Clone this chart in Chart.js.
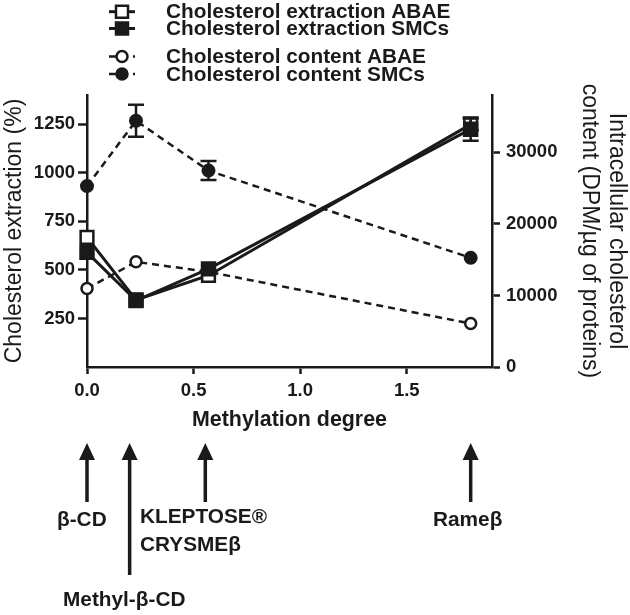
<!DOCTYPE html>
<html>
<head>
<meta charset="utf-8">
<script src="https://cdn.jsdelivr.net/npm/chart.js@4"></script>
<style>
  html, body { margin: 0; padding: 0; background: #fff; }
  #wrap { width: 630px; height: 615px; position: relative; }
</style>
</head>
<body>
<div id="wrap"><canvas id="chart" width="630" height="615"></canvas></div>
<script>
// methylation degree of each cyclodextrin
const methylation = [0, 0.23, 0.57, 1.8];

// cholesterol extraction (%), left axis
const extractionABAE = [667, 345, 471, 1249];
const extractionSMCs = [590, 342, 505, 1224];
const extractionABAEErr = [0, 0, 0, 30];
const extractionSMCsErr = [0, 0, 0, 60];

// intracellular cholesterol content (DPM/µg of proteins), right axis
const contentABAE = [10960, 14690, 13290, 6070];
const contentSMCs = [25270, 34400, 27440, 15250];
const contentABAEErr = [0, 0, 0, 0];
const contentSMCsErr = [0, 2250, 1330, 0];

const leftTicks = [250, 500, 750, 1000, 1250];
const rightTicks = [0, 10000, 20000, 30000];
const xTicks = [0, 0.5, 1.0, 1.5];

// cyclodextrins pointed at under the x axis
const cdNames = [['β-CD'], ['Methyl-β-CD'], ['KLEPTOSE®', 'CRYSMEβ'], ['Rameβ']];
const cdDegree = [0, 0.2, 0.555, 1.8];

const INK = '#1a1a1a';
const FONT = "'Liberation Sans', Arial, sans-serif";

const pts = (ys) => methylation.map((x, i) => ({ x, y: ys[i] }));

const datasets = [
  { label: 'Cholesterol extraction ABAE', data: pts(extractionABAE), err: extractionABAEErr, yAxisID: 'y',
    borderColor: INK, backgroundColor: '#fff', borderWidth: 3, pointStyle: 'rect', pointRadius: 9,
    pointBorderWidth: 2.5, order: 1, clip: false },
  { label: 'Cholesterol extraction SMCs', data: pts(extractionSMCs), err: extractionSMCsErr, yAxisID: 'y',
    borderColor: INK, backgroundColor: INK, borderWidth: 3, pointStyle: 'rect', pointRadius: 9.5,
    pointBorderWidth: 2, order: 0, clip: false },
  { label: 'Cholesterol content ABAE', data: pts(contentABAE), err: contentABAEErr, yAxisID: 'y1',
    borderColor: INK, backgroundColor: '#fff', borderWidth: 2.5, borderDash: [7, 5], pointStyle: 'circle',
    pointRadius: 5.5, pointBorderWidth: 2.5, order: 3, clip: false },
  { label: 'Cholesterol content SMCs', data: pts(contentSMCs), err: contentSMCsErr, yAxisID: 'y1',
    borderColor: INK, backgroundColor: INK, borderWidth: 2.5, borderDash: [7, 5], pointStyle: 'circle',
    pointRadius: 6, pointBorderWidth: 2, order: 2, clip: false }
];

// error bars with caps
const errorBars = {
  id: 'errorBars',
  afterDatasetsDraw(chart) {
    const ctx = chart.ctx;
    const xs = chart.scales.x;
    ctx.save();
    ctx.strokeStyle = INK;
    ctx.lineWidth = 2.5;
    chart.data.datasets.forEach(ds => {
      const ys = chart.scales[ds.yAxisID];
      ds.data.forEach((p, i) => {
        const e = ds.err[i];
        if (!e) return;
        const px = xs.getPixelForValue(p.x);
        const top = ys.getPixelForValue(p.y + e);
        const bot = ys.getPixelForValue(p.y - e);
        ctx.beginPath();
        ctx.moveTo(px, top); ctx.lineTo(px, bot);
        ctx.moveTo(px - 8, top); ctx.lineTo(px + 8, top);
        ctx.moveTo(px - 8, bot); ctx.lineTo(px + 8, bot);
        ctx.stroke();
      });
    });
    ctx.restore();
  }
};

// two-group legend above the plot
const legendTop = {
  id: 'legendTop',
  afterDraw(chart) {
    const ctx = chart.ctx;
    const rows = [11.7, 28.5, 56.5, 74];
    ctx.save();
    chart.data.datasets.forEach((ds, i) => {
      const y = rows[i];
      ctx.strokeStyle = INK;
      ctx.lineWidth = ds.borderWidth;
      ctx.setLineDash(ds.borderDash || []);
      ctx.beginPath();
      ctx.moveTo(109, y); ctx.lineTo(135, y);
      ctx.stroke();
      ctx.setLineDash([]);
      ctx.fillStyle = ds.backgroundColor;
      ctx.lineWidth = 2.5;
      ctx.beginPath();
      if (ds.pointStyle === 'rect') ctx.rect(122 - 6, y - 6, 12, 12);
      else ctx.arc(122, y, 5.5, 0, Math.PI * 2);
      ctx.fill(); ctx.stroke();
      ctx.fillStyle = INK;
      ctx.font = 'bold 20.8px ' + FONT;
      ctx.textBaseline = 'middle';
      ctx.textAlign = 'left';
      ctx.fillText(ds.label, 166, y + 1);
    });
    ctx.restore();
  }
};

// arrows and cyclodextrin names under the x axis
const cdArrows = {
  id: 'cdArrows',
  afterDraw(chart) {
    const ctx = chart.ctx;
    const xs = chart.scales.x;
    const bottoms = [502, 575, 502, 502];
    const textPos = [[57, 520], [63, 600], [140, 517], [433, 520]];
    ctx.save();
    ctx.fillStyle = INK;
    ctx.strokeStyle = INK;
    cdDegree.forEach((d, i) => {
      const px = xs.getPixelForValue(d);
      ctx.lineWidth = 3.5;
      ctx.beginPath();
      ctx.moveTo(px, 455); ctx.lineTo(px, bottoms[i]);
      ctx.stroke();
      ctx.beginPath();
      ctx.moveTo(px, 443); ctx.lineTo(px - 8, 460); ctx.lineTo(px + 8, 460);
      ctx.closePath(); ctx.fill();
      ctx.font = 'bold 20.8px ' + FONT;
      ctx.textBaseline = 'middle';
      ctx.textAlign = 'left';
      cdNames[i].forEach((t, k) => ctx.fillText(t, textPos[i][0], textPos[i][1] + k * 28));
    });
    ctx.restore();
  }
};

const tickFont = { family: FONT, size: 18.5, weight: 'bold' };
const yTitleFont = { family: FONT, size: 23, weight: 'normal', lineHeight: 1.18 };

new Chart(document.getElementById('chart'), {
  type: 'line',
  data: { datasets },
  options: {
    responsive: false,
    animation: false,
    layout: { padding: { top: 95, bottom: 182, left: 0, right: 0 } },
    plugins: { legend: { display: false }, tooltip: { enabled: false } },
    elements: { line: { tension: 0 } },
    scales: {
      x: {
        type: 'linear', min: 0, max: 1.9,
        afterBuildTicks: s => { s.ticks = xTicks.map(v => ({ value: v })); },
        afterFit: s => { s.height = 66; },
        ticks: { font: tickFont, color: INK, padding: 6, callback: v => v.toFixed(1) },
        grid: { drawOnChartArea: false, tickLength: 7, tickColor: INK, tickWidth: 2.5 },
        border: { color: INK, width: 2.5 },
        title: { display: true, text: 'Methylation degree', color: INK, padding: 0,
          font: { family: FONT, size: 21.4, weight: 'bold' } }
      },
      y: {
        position: 'left', min: 0, max: 1400,
        afterBuildTicks: s => { s.ticks = leftTicks.map(v => ({ value: v })); },
        afterFit: s => { s.width = 87; },
        ticks: { font: tickFont, color: INK, padding: 3, callback: v => String(v) },
        grid: { drawOnChartArea: false, tickLength: 9, tickColor: INK, tickWidth: 2.5 },
        border: { color: INK, width: 2.5 },
        title: { display: true, text: 'Cholesterol extraction (%)', font: yTitleFont, color: INK,
          padding: { top: 1, bottom: 0 } }
      },
      y1: {
        position: 'right', min: 0, max: 38000,
        afterBuildTicks: s => { s.ticks = rightTicks.map(v => ({ value: v })); },
        afterFit: s => { s.width = 138; },
        ticks: { font: tickFont, color: INK, padding: 6, callback: v => String(v) },
        grid: { drawOnChartArea: false, tickLength: 8, tickColor: INK, tickWidth: 2.5 },
        border: { color: INK, width: 2.5 },
        title: { display: true, text: ['Intracellular cholesterol', 'content (DPM/µg of proteins)'],
          font: yTitleFont, color: INK, padding: { top: 0, bottom: 0 } }
      }
    }
  },
  plugins: [errorBars, legendTop, cdArrows]
});
</script>
</body>
</html>
